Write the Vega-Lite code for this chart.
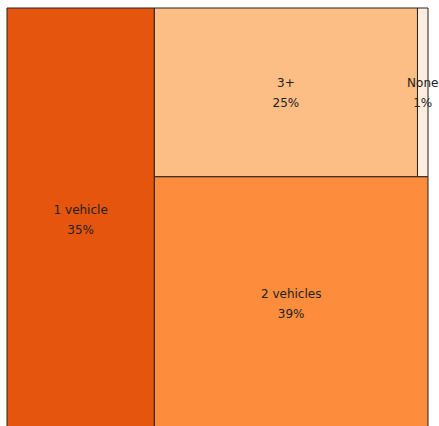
{
  "$schema": "https://vega.github.io/schema/vega-lite/v6.json",
  "autosize": "none",
  "width": 421,
  "height": 422,
  "padding": {"left": 7, "top": 8, "right": 11, "bottom": 0},
  "background": "white",
  "config": {"view": {"stroke": null}},
  "data": {
    "values": [
      {"category": "1 vehicle", "share": "35%", "x0": 0, "x1": 0.35, "y0": 0, "y1": 1},
      {"category": "3+", "share": "25%", "x0": 0.35, "x1": 0.975, "y0": 0, "y1": 0.4},
      {"category": "None", "share": "1%", "x0": 0.975, "x1": 1, "y0": 0, "y1": 0.4},
      {"category": "2 vehicles", "share": "39%", "x0": 0.35, "x1": 1, "y0": 0.4, "y1": 1}
    ]
  },
  "transform": [
    {"calculate": "(datum.x0 + datum.x1) / 2", "as": "cx"},
    {"calculate": "(datum.y0 + datum.y1) / 2", "as": "cy"}
  ],
  "layer": [
    {
      "mark": {"type": "rect", "stroke": "#222222", "strokeWidth": 1},
      "encoding": {
        "x": {"field": "x0", "type": "quantitative", "scale": {"domain": [0, 1], "nice": false}, "axis": null},
        "x2": {"field": "x1"},
        "y": {"field": "y0", "type": "quantitative", "scale": {"domain": [0, 1], "nice": false, "reverse": true}, "axis": null},
        "y2": {"field": "y1"},
        "color": {
          "field": "category",
          "type": "nominal",
          "scale": {"domain": ["1 vehicle", "2 vehicles", "3+", "None"], "range": ["#e6550d", "#fd8d3c", "#fdbe85", "#feedde"]},
          "legend": null
        }
      }
    },
    {
      "mark": {"type": "text", "dy": -9, "font": "DejaVu Sans", "fontSize": 12, "color": "#222222"},
      "encoding": {
        "x": {"field": "cx", "type": "quantitative"},
        "y": {"field": "cy", "type": "quantitative"},
        "text": {"field": "category"}
      }
    },
    {
      "mark": {"type": "text", "dy": 11, "font": "DejaVu Sans", "fontSize": 12, "color": "#222222"},
      "encoding": {
        "x": {"field": "cx", "type": "quantitative"},
        "y": {"field": "cy", "type": "quantitative"},
        "text": {"field": "share"}
      }
    }
  ]
}
